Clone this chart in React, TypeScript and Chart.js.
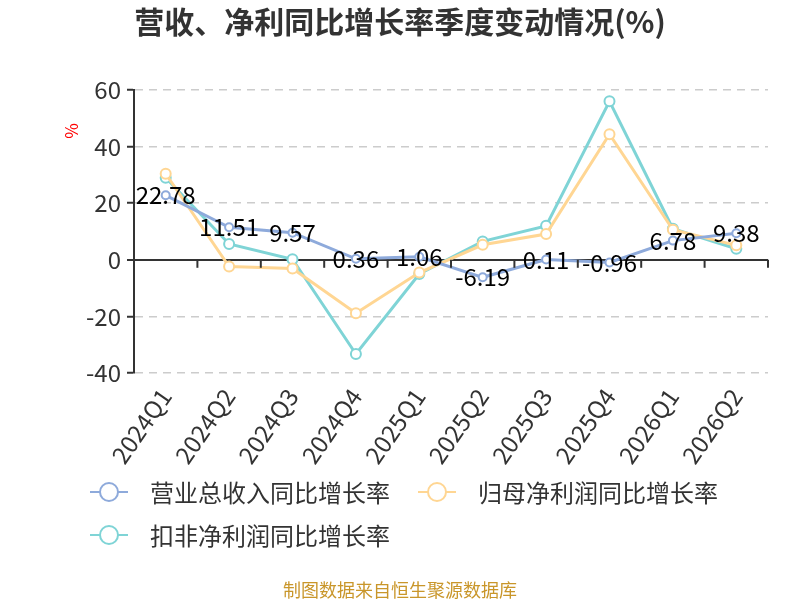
import { useEffect, useRef } from "react"
import { Chart, registerables } from "chart.js"

Chart.register(...registerables)

const FONT = "'Noto Sans CJK SC', 'Noto Sans', sans-serif"

const quarters = ["2024Q1", "2024Q2", "2024Q3", "2024Q4", "2025Q1", "2025Q2", "2025Q3", "2025Q4", "2026Q1", "2026Q2"]
const revenueGrowth = [22.78, 11.51, 9.57, 0.36, 1.06, -6.19, 0.11, -0.96, 6.78, 9.38]
const netProfitGrowth = [30.4, -2.4, -3.1, -18.9, -4.5, 5.3, 9.1, 44.4, 10.6, 5.1]
const deductedProfitGrowth = [29.0, 5.6, 0.2, -33.3, -5.0, 6.5, 12.0, 56.0, 11.0, 3.9]

const seriesNames = ["营业总收入同比增长率", "归母净利润同比增长率", "扣非净利润同比增长率"]
const seriesColors = ["#8eaadb", "#ffd693", "#7fd4d6"]

const titleText = "营收、净利同比增长率季度变动情况(%)"
const sourceText = "制图数据来自恒生聚源数据库"

// title, legend, footer, zero axis ticks and value labels
const decorPlugin = {
  id: "decor",
  afterDraw(chart: Chart) {
    const { ctx, chartArea } = chart
    const x = chart.scales.x
    const y = chart.scales.y
    ctx.save()

    // x axis ticks hanging from the zero line
    const zeroY = y.getPixelForValue(0)
    ctx.strokeStyle = "#333"
    ctx.lineWidth = 2
    for (let i = 0; i < quarters.length; i++) {
      const px = i < quarters.length - 1
        ? (x.getPixelForValue(i) + x.getPixelForValue(i + 1)) / 2
        : chartArea.right
      ctx.beginPath()
      ctx.moveTo(px, zeroY)
      ctx.lineTo(px, zeroY + 8)
      ctx.stroke()
    }

    // value labels of the revenue series
    const meta = chart.getDatasetMeta(0)
    ctx.fillStyle = "#000"
    ctx.font = `24px ${FONT}`
    ctx.textAlign = "center"
    ctx.textBaseline = "middle"
    meta.data.forEach((pt, i) => {
      ctx.fillText(revenueGrowth[i].toFixed(2), pt.x, pt.y)
    })

    // title
    ctx.fillStyle = "#333"
    ctx.font = `bold 30px ${FONT}`
    ctx.fillText(titleText, 400, 22)

    // unit label
    ctx.save()
    ctx.translate(72, 131)
    ctx.rotate(-Math.PI / 2)
    ctx.fillStyle = "#ff0000"
    ctx.font = `17px ${FONT}`
    ctx.fillText("%", 0, 0)
    ctx.restore()

    // legend
    const items = [
      { x: 90, y: 492 },
      { x: 418, y: 492 },
      { x: 90, y: 535 },
    ]
    ctx.font = `24px ${FONT}`
    ctx.textAlign = "left"
    items.forEach((it, i) => {
      ctx.strokeStyle = seriesColors[i]
      ctx.lineWidth = 2
      ctx.beginPath()
      ctx.moveTo(it.x, it.y)
      ctx.lineTo(it.x + 38, it.y)
      ctx.stroke()
      ctx.beginPath()
      ctx.arc(it.x + 19, it.y, 9, 0, Math.PI * 2)
      ctx.fillStyle = "#fff"
      ctx.fill()
      ctx.stroke()
      ctx.fillStyle = "#333"
      ctx.fillText(seriesNames[i], it.x + 60, it.y + 1)
    })

    // source
    ctx.textAlign = "center"
    ctx.fillStyle = "#c9962a"
    ctx.font = `18px ${FONT}`
    ctx.fillText(sourceText, 400, 590)

    ctx.restore()
  },
}

export default function App() {
  const chartRef = useRef<HTMLCanvasElement>(null)
  const chartInstance = useRef<Chart | null>(null)

  useEffect(() => {
    document.body.style.margin = "0"
    if (!chartRef.current) return
    if (chartInstance.current) chartInstance.current.destroy()

    const ctx = chartRef.current.getContext("2d")
    if (!ctx) return

    const values = [revenueGrowth, netProfitGrowth, deductedProfitGrowth]

    chartInstance.current = new Chart(ctx, {
      type: "line",
      data: {
        labels: quarters,
        datasets: values.map((v, i) => ({
          label: seriesNames[i],
          data: v,
          borderColor: seriesColors[i],
          backgroundColor: "#fff",
          pointBackgroundColor: "#fff",
          pointBorderColor: seriesColors[i],
          pointBorderWidth: 2,
          pointRadius: i === 0 ? 4 : 5,
          borderWidth: 3,
          tension: 0,
        })),
      },
      options: {
        responsive: false,
        animation: false,
        layout: { padding: { top: 90, left: 40, right: 32, bottom: 127 } },
        plugins: {
          legend: { display: false },
          title: { display: false },
          tooltip: { enabled: false },
        },
        scales: {
          x: {
            offset: true,
            grid: { display: false },
            border: { display: false },
            ticks: {
              color: "#333",
              font: { size: 24, family: FONT },
              minRotation: 55,
              maxRotation: 55,
              padding: 2,
            },
            afterFit: (scale: any) => {
              scale.height = 100
            },
          },
          y: {
            min: -40,
            max: 60,
            ticks: {
              stepSize: 20,
              color: "#333",
              font: { size: 24, family: FONT },
              padding: 6,
            },
            grid: {
              color: (c: any) => (c.tick && c.tick.value === 0 ? "#333" : "#cccccc"),
              lineWidth: (c: any) => (c.tick && c.tick.value === 0 ? 2 : 1.5),
              tickColor: "#333",
              tickLength: 7,
              tickWidth: 2,
            },
            border: {
              display: true,
              color: "#333",
              width: 2,
              dash: (c: any) => (c.tick && c.tick.value === 0 ? [] : [8, 6]),
            },
            afterFit: (scale: any) => {
              scale.width = 94
            },
          },
        },
      },
      plugins: [decorPlugin],
    })

    return () => {
      if (chartInstance.current) {
        chartInstance.current.destroy()
        chartInstance.current = null
      }
    }
  }, [])

  return <canvas ref={chartRef} width={800} height={600} style={{ display: "block" }} />
}
